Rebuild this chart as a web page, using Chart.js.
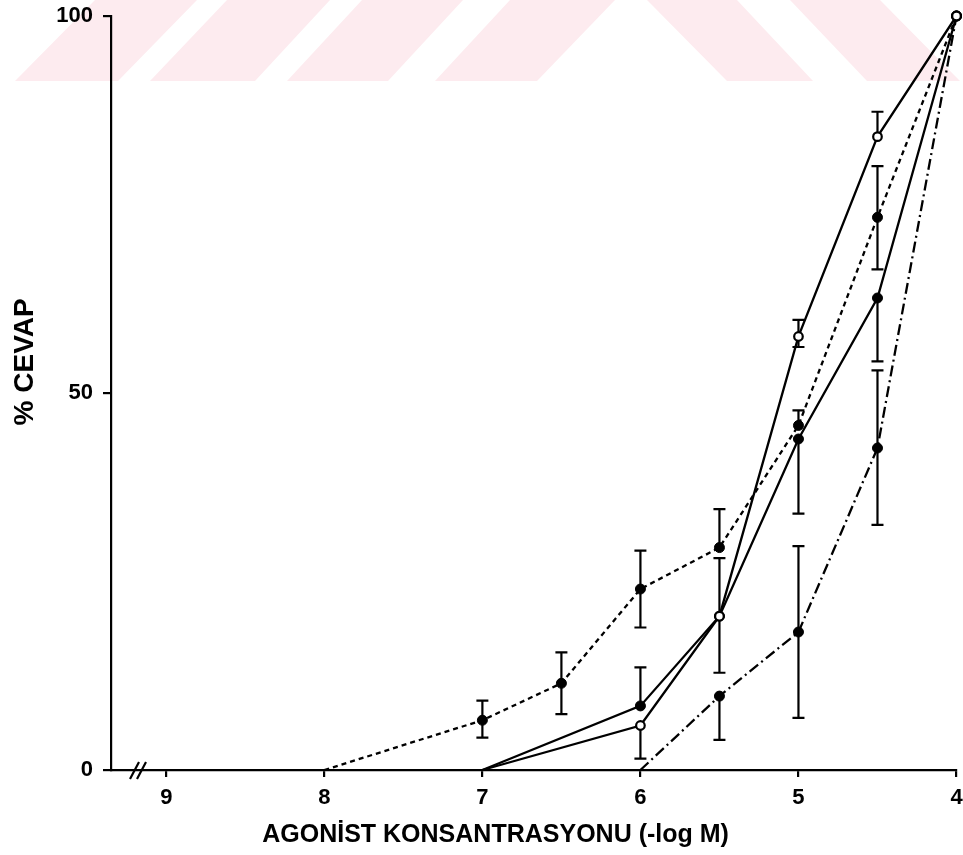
<!DOCTYPE html>
<html><head><meta charset="utf-8">
<script src="https://cdn.jsdelivr.net/npm/chart.js@4"></script>
<style>html,body{margin:0;padding:0;background:#fff;} #wrap{width:963px;height:855px;position:relative;}</style>
</head><body><div id="wrap"><canvas id="c" width="963" height="855"></canvas></div>
<script>
// ---- data ----
const xTickValues = [9, 8, 7, 6, 5, 4];
const yTickValues = [0, 50, 100];

// open circles, solid line
const openX = [7, 6, 5.5, 5, 4.5, 4];
const openY = [0, 5.9, 20.4, 57.5, 84, 100];
const openErrUp = [0, 0, 7.7, 2.2, 3.3, 0];
const openErrDown = [0, 4.4, 7.5, 1.4, 0, 0];

// filled circles, solid line
const solidX = [7, 6, 5.5, 5, 4.5, 4];
const solidY = [0, 8.5, 20.4, 43.9, 62.6, 100];
const solidErrUp = [0, 5.1, 0, 0, 0, 0];
const solidErrDown = [0, 0, 0, 9.9, 8.4, 0];

// filled circles, dashed line
const dashX = [8, 7, 6.5, 6, 5.5, 5, 4.5, 4];
const dashY = [0, 6.6, 11.5, 24, 29.5, 45.7, 73.3, 100];
const dashErrUp = [0, 2.6, 4.1, 5.1, 5.1, 2.0, 6.8, 0];
const dashErrDown = [0, 2.3, 4.1, 5.1, 0, 0, 6.9, 0];

// filled circles, dash-dot line
const dashDotX = [6, 5.5, 5, 4.5, 4];
const dashDotY = [0, 9.8, 18.3, 42.7, 100];
const dashDotErrUp = [0, 0, 11.4, 10.3, 0];
const dashDotErrDown = [0, 5.8, 11.4, 10.2, 0];

const xTitle = 'AGONİST KONSANTRASYONU (-log M)';
const yTitle = '% CEVAP';

// ---- helpers ----
const FONT = "'Liberation Sans', Arial, Helvetica, sans-serif";
function pts(xs, ys) { return xs.map((x, i) => ({ x: x, y: ys[i] })); }
function radii(ys, r) { return ys.map(v => (v === 0 ? 0 : r)); }

// pale watermark band at the top of the page (decoration)
const watermarkPlugin = {
  id: 'watermark',
  beforeDraw(chart) {
    const ctx = chart.ctx;
    const polys = [
      [[15,81],[118,81],[197,0],[95,0]],
      [[150,81],[255,81],[330,0],[227,0]],
      [[287,81],[388,81],[463,0],[362,0]],
      [[435,81],[537,81],[615,0],[510,0]],
      [[647,0],[737,0],[813,81],[727,81]],
      [[790,0],[880,0],[960,81],[867,81]]
    ];
    ctx.save();
    ctx.fillStyle = '#fdebef';
    polys.forEach(p => {
      ctx.beginPath();
      ctx.moveTo(p[0][0], p[0][1]);
      for (let i = 1; i < p.length; i++) ctx.lineTo(p[i][0], p[i][1]);
      ctx.closePath();
      ctx.fill();
    });
    ctx.restore();
  }
};

const errorBarPlugin = {
  id: 'errorBars',
  beforeDatasetsDraw(chart) {
    const ctx = chart.ctx, xs = chart.scales.x, ys = chart.scales.y;
    ctx.save();
    ctx.strokeStyle = '#000';
    ctx.lineWidth = 2.2;
    ctx.setLineDash([]);
    chart.data.datasets.forEach(ds => {
      ds.data.forEach((p, i) => {
        const up = ds.errUp[i], dn = ds.errDown[i];
        const px = xs.getPixelForValue(p.x);
        const py = ys.getPixelForValue(p.y);
        const cap = 6;
        if (up > 0) {
          const t = ys.getPixelForValue(p.y + up);
          ctx.beginPath(); ctx.moveTo(px, py); ctx.lineTo(px, t);
          ctx.moveTo(px - cap, t); ctx.lineTo(px + cap, t); ctx.stroke();
        }
        if (dn > 0) {
          const b = ys.getPixelForValue(p.y - dn);
          ctx.beginPath(); ctx.moveTo(px, py); ctx.lineTo(px, b);
          ctx.moveTo(px - cap, b); ctx.lineTo(px + cap, b); ctx.stroke();
        }
      });
    });
    ctx.restore();
  }
};

const axisBreakPlugin = {
  id: 'axisBreak',
  afterDraw(chart) {
    const ctx = chart.ctx;
    const l = chart.chartArea.left, b = chart.chartArea.bottom;
    ctx.save();
    ctx.strokeStyle = '#000';
    ctx.lineWidth = 2.2;
    ctx.beginPath();
    ctx.moveTo(l + 19, b + 9); ctx.lineTo(l + 28, b - 8);
    ctx.moveTo(l + 26, b + 9); ctx.lineTo(l + 35, b - 8);
    ctx.stroke();
    ctx.restore();
  }
};

function ds(xs, ys, up, dn, opts) {
  return Object.assign({
    data: pts(xs, ys),
    errUp: up, errDown: dn,
    borderColor: '#000',
    borderWidth: 2.3,
    pointBorderColor: '#000',
    pointBackgroundColor: '#000',
    pointBorderWidth: 1,
    pointRadius: radii(ys, 5),
    tension: 0,
    fill: false,
    clip: false
  }, opts);
}

new Chart(document.getElementById('c'), {
  type: 'line',
  data: {
    datasets: [
      ds(openX, openY, openErrUp, openErrDown, {
        pointBackgroundColor: '#fff', pointBorderWidth: 2.2, pointRadius: radii(openY, 4.3)
      }),
      ds(solidX, solidY, solidErrUp, solidErrDown, {}),
      ds(dashX, dashY, dashErrUp, dashErrDown, { borderDash: [5, 4] }),
      ds(dashDotX, dashDotY, dashDotErrUp, dashDotErrDown, { borderDash: [11, 4, 2, 4] })
    ]
  },
  options: {
    responsive: false,
    animation: false,
    layout: { padding: { left: 0, right: 6, top: 16, bottom: 0 } },
    plugins: { legend: { display: false }, tooltip: { enabled: false } },
    scales: {
      x: {
        type: 'linear', reverse: true, min: 4, max: 9.35,
        afterBuildTicks: s => { s.ticks = xTickValues.map(v => ({ value: v })); },
        afterFit: s => { s.height = 85; s.paddingLeft = 0; s.paddingRight = 0; },
        grid: { display: true, drawOnChartArea: false, drawTicks: true, tickLength: 7, color: '#000', lineWidth: 2.2 },
        border: { display: true, color: '#000', width: 2.2 },
        ticks: { color: '#000', font: { family: FONT, weight: 'bold', size: 22 }, padding: 8, maxRotation: 0, autoSkip: false },
        title: { display: true, text: xTitle + '           ', color: '#000',
                 font: { family: FONT, weight: 'bold', size: 25 }, padding: { top: 0, bottom: 5 } }
      },
      y: {
        min: 0, max: 100,
        afterBuildTicks: s => { s.ticks = yTickValues.map(v => ({ value: v })); },
        afterFit: s => { s.width = 111; s.paddingTop = 0; s.paddingBottom = 0; },
        grid: { display: true, drawOnChartArea: false, drawTicks: true, tickLength: 8, color: '#000', lineWidth: 2.2 },
        border: { display: true, color: '#000', width: 2.2 },
        ticks: { color: '#000', font: { family: FONT, weight: 'bold', size: 22 }, padding: 10 },
        title: { display: true, text: '        ' + yTitle, color: '#000',
                 font: { family: FONT, weight: 'bold', size: 28 }, padding: { top: 8, bottom: 0 } }
      }
    }
  },
  plugins: [watermarkPlugin, errorBarPlugin, axisBreakPlugin]
});
</script>
</body></html>
